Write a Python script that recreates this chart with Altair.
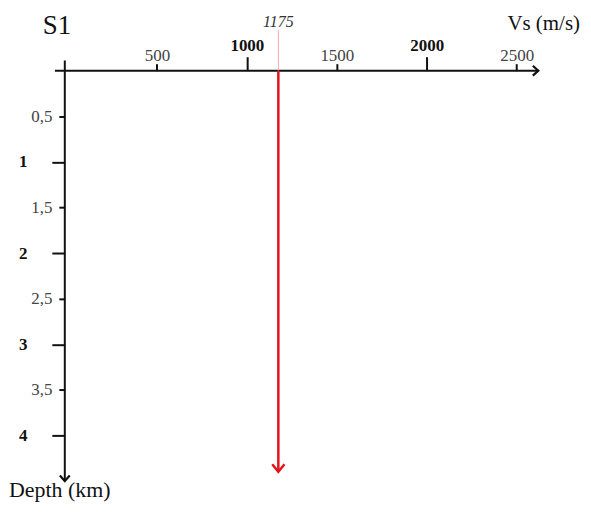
import altair as alt
import pandas as pd

# ---- data ----
vs_ticks = [500, 1000, 1500, 2000, 2500]          # Vs (m/s) axis ticks
depth_ticks = [0.5, 1, 1.5, 2, 2.5, 3, 3.5, 4]     # Depth (km) axis ticks
vs_value = 1175                                    # velocity of profile S1
depth_end = 4.4                                    # depth reached by the red arrow (km)
station = "S1"
x_title = "Vs (m/s)"
y_title = "Depth (km)"

# ---- layout ----
X_DOMAIN = [-12, 2813]
Y_DOMAIN = [0, 4.743]
FONT = "Liberation Serif"

xs = alt.Scale(domain=X_DOMAIN, nice=False, zero=False)
ys = alt.Scale(domain=Y_DOMAIN, nice=False, zero=False, reverse=True)

base = alt.Chart(pd.DataFrame({"d": [0]}))

# axes (ticks + labels) through Vega-Lite axes
x_axis = alt.Axis(
    orient="top", values=vs_ticks, format="d", grid=False, domain=False, title=None,
    tickColor="#111", tickWidth=2,
    tickSize={"condition": {"test": "datum.value % 1000 === 0", "value": 14}, "value": 7},
    labelPadding={"condition": {"test": "datum.value % 1000 === 0", "value": 6}, "value": 3},
    labelBaseline="alphabetic", labelFont=FONT, labelFontSize=17,
    labelFontWeight={"condition": {"test": "datum.value % 1000 === 0", "value": "bold"}, "value": "normal"},
    labelColor={"condition": {"test": "datum.value % 1000 === 0", "value": "#111"}, "value": "#444"},
)
y_axis = alt.Axis(
    orient="left", values=depth_ticks, grid=False, domain=False, title=None,
    labelExpr="replace(format(datum.value, '~g'), '.', ',')",
    tickColor="#111", tickWidth=2,
    tickSize={"condition": {"test": "datum.value % 1 === 0", "value": 13}, "value": 6},
    labelPadding={"condition": {"test": "datum.value % 1 === 0", "value": 25}, "value": 7},
    labelFont=FONT, labelFontSize=17,
    labelFontWeight={"condition": {"test": "datum.value % 1 === 0", "value": "bold"}, "value": "normal"},
    labelColor={"condition": {"test": "datum.value % 1 === 0", "value": "#111"}, "value": "#444"},
)

axes = base.mark_point(opacity=0).encode(
    x=alt.X("x:Q", scale=xs, axis=x_axis),
    y=alt.Y("y:Q", scale=ys, axis=y_axis),
).transform_calculate(x=f"{vs_ticks[0]}", y=f"{depth_ticks[0]}")

# axis lines with arrows
h_line = pd.DataFrame({"x": [-67], "x2": [2620], "y": [0]})
v_line = pd.DataFrame({"x": [-12], "y": [-0.11], "y2": [4.5]})
h_rule = alt.Chart(h_line).mark_rule(color="#111", strokeWidth=2).encode(
    x=alt.X("x:Q", scale=xs), x2="x2:Q", y=alt.Y("y:Q", scale=ys))
v_rule = alt.Chart(v_line).mark_rule(color="#111", strokeWidth=2).encode(
    x=alt.X("x:Q", scale=xs), y=alt.Y("y:Q", scale=ys), y2="y2:Q")

right_arrow = alt.Chart(pd.DataFrame({"x": [2620], "y": [0]})).mark_point(
    shape="M-1,-0.9L0,0L-1,0.9", filled=False, color="#111", strokeWidth=2.2, size=121, opacity=1
).encode(x=alt.X("x:Q", scale=xs), y=alt.Y("y:Q", scale=ys))
down_arrow = alt.Chart(pd.DataFrame({"x": [-12], "y": [4.5]})).mark_point(
    shape="M-0.9,-1L0,0L0.9,-1", filled=False, color="#111", strokeWidth=2.2, size=121, opacity=1
).encode(x=alt.X("x:Q", scale=xs), y=alt.Y("y:Q", scale=ys))

# the S1 velocity profile: red arrow at Vs = 1175 m/s
prof = pd.DataFrame({"vs": [vs_value], "top": [0], "bottom": [depth_end - 0.02], "tip": [depth_end]})
guide = alt.Chart(prof).mark_rule(color="#f2a9a9", strokeWidth=1).encode(
    x=alt.X("vs:Q", scale=xs), y=alt.value(-41), y2=alt.value(0))
red = alt.Chart(prof).mark_rule(color="#e3141b", strokeWidth=2.5).encode(
    x=alt.X("vs:Q", scale=xs), y=alt.Y("top:Q", scale=ys), y2="bottom:Q")
red_tip = alt.Chart(prof).mark_point(
    shape="M-1,-1.25L0,0L1,-1.25", filled=False, color="#e3141b", strokeWidth=2.5, size=150, opacity=1
).encode(x=alt.X("vs:Q", scale=xs), y=alt.Y("tip:Q", scale=ys))

vs_label = alt.Chart(prof).mark_text(
    font=FONT, fontSize=16, fontStyle="italic", color="#333", baseline="alphabetic", align="center"
).encode(x=alt.X("vs:Q", scale=xs), y=alt.value(-44), text=alt.Text("vs:Q", format="d"))

# titles
annot = pd.DataFrame({
    "text": [station, x_title, y_title],
    "x": [-56, 2650, -40],
    "y": [-0.40, -0.448, 4.68],
    "size": [27, 21, 22],
})
texts = alt.Chart(annot).mark_text(
    font=FONT, color="#111", baseline="alphabetic", align="center"
).encode(
    x=alt.X("x:Q", scale=xs), y=alt.Y("y:Q", scale=ys), text="text:N",
    size=alt.Size("size:Q", scale=None, legend=None),
)

chart = alt.layer(
    axes, h_rule, v_rule, right_arrow, down_arrow, guide, red, red_tip, vs_label, texts
).properties(
    width=510, height=434,
    autosize=alt.AutoSizeParams(type="none"),
    padding={"left": 57, "top": 62, "right": 10, "bottom": 5},
).configure_view(stroke=None)

chart.save("out.html", embed_options={"renderer": "svg", "actions": False})
